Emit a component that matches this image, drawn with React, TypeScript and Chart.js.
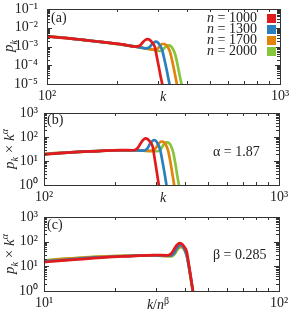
import React, { useEffect, useRef } from 'react';
import { Chart, registerables } from 'chart.js';
Chart.register(...registerables);

const ALPHA = 1.87;
const BETA = 0.285;
const sizes = [1000, 1300, 1700, 2000];
const colors = ['#e31a1c', '#2a80bf', '#e3830a', '#87c63b'];

// k values and compensated values p_k * k^alpha
const k1000 = [70, 85, 100, 130, 170, 210, 240, 250, 258, 264, 270, 276, 283, 290, 296, 302, 308, 314];
const v1000 = [14.5, 17, 19, 23, 26, 28.5, 28, 34, 55, 75, 88, 82, 62, 40, 12, 3.5, 1, 0.35];
const k1300 = [75, 90, 100, 130, 170, 210, 250, 265, 275, 282, 288, 293, 299, 305, 312, 319, 326, 332, 338];
const v1300 = [15.5, 17.5, 19, 23, 26, 28, 27.5, 27, 33, 50, 65, 75, 70, 52, 30, 10, 3, 1, 0.35];
const k1700 = [80, 100, 130, 170, 210, 250, 280, 290, 300, 307, 313, 318, 324, 331, 338, 345, 352, 358, 364];
const v1700 = [16, 19.5, 23, 26, 27.5, 27.5, 26.5, 27, 36, 52, 63, 65, 60, 45, 25, 9, 2.8, 1, 0.35];
const k2000 = [85, 100, 130, 170, 210, 250, 290, 305, 315, 323, 329, 334, 340, 347, 355, 362, 369, 375, 382];
const v2000 = [16.5, 19.5, 23, 26, 27.5, 27.5, 26, 25.5, 33, 48, 58, 60, 56, 42, 22, 8, 2.5, 1, 0.35];

const kSeries = [k1000, k1300, k1700, k2000];
const vSeries = [v1000, v1300, v1700, v2000];

const W = 291;
const FS = 14;
const SS = 10;

const SUP: Record<string, string> = { '0': '⁰', '1': '¹', '2': '²', '3': '³', '4': '⁴', '5': '⁵', '6': '⁶', '7': '⁷', '8': '⁸', '9': '⁹', '-': '⁻' };
const sup = (n: number) => String(n).split('').map((c) => SUP[c] || c).join('');

type Panel = {
  top: number; h: number;
  area: { top: number; bottom: number; left: number; right: number };
  xr: [number, number]; yr: [number, number];
  ypad: number;
  map: (k: number, v: number, n: number) => { x: number; y: number };
};

const panels: Panel[] = [
  { top: 0, h: 105, area: { top: 9, bottom: 84, left: 47, right: 280 }, xr: [100, 1000], yr: [1e-5, 1e-1], ypad: 9,
    map: (k, v) => ({ x: k, y: v / Math.pow(k, ALPHA) }) },
  { top: 105, h: 105, area: { top: 8, bottom: 80, left: 44, right: 279 }, xr: [100, 1000], yr: [1, 1000], ypad: 6,
    map: (k, v) => ({ x: k, y: v }) },
  { top: 210, h: 104, area: { top: 7, bottom: 81, left: 44, right: 279 }, xr: [10, 100], yr: [1, 1000], ypad: 6,
    map: (k, v, n) => ({ x: k / Math.pow(n, BETA), y: v }) },
];

const decades = (min: number, max: number) => {
  const out: number[] = [];
  for (let e = Math.round(Math.log10(min)); e <= Math.round(Math.log10(max)); e++) out.push(Math.pow(10, e));
  return out;
};

const framePlugin = {
  id: 'frame',
  afterDatasetsDraw(chart: any) {
    const { ctx, chartArea } = chart;
    const { left, right, top, bottom } = chartArea;
    const xs = chart.scales.x, ys = chart.scales.y;
    const logTicks = (min: number, max: number) => {
      const out: { v: number; major: boolean }[] = [];
      for (let e = Math.floor(Math.log10(min)) - 1; e <= Math.ceil(Math.log10(max)); e++) {
        for (let m = 1; m <= 9; m++) {
          const v = m * Math.pow(10, e);
          if (v >= min * 0.999 && v <= max * 1.001) out.push({ v, major: m === 1 });
        }
      }
      return out;
    };
    ctx.save();
    ctx.strokeStyle = '#333';
    ctx.lineWidth = 1;
    ctx.beginPath();
    for (const t of logTicks(xs.min, xs.max)) {
      const px = Math.round(xs.getPixelForValue(t.v)) + 0.5;
      const len = t.major ? 5 : 3;
      ctx.moveTo(px, bottom); ctx.lineTo(px, bottom - len);
      ctx.moveTo(px, top); ctx.lineTo(px, top + len);
    }
    for (const t of logTicks(ys.min, ys.max)) {
      const py = Math.round(ys.getPixelForValue(t.v)) + 0.5;
      const len = t.major ? 5 : 3;
      ctx.moveTo(left, py); ctx.lineTo(left + len, py);
      ctx.moveTo(right, py); ctx.lineTo(right - len, py);
    }
    ctx.stroke();
    ctx.strokeRect(Math.round(left) + 0.5, Math.round(top) + 0.5, Math.round(right - left), Math.round(bottom - top));
    ctx.restore();
  },
};

function PanelChart({ p }: { p: Panel }) {
  const ref = useRef<HTMLCanvasElement>(null);
  useEffect(() => {
    const datasets = sizes.map((n, i) => ({
      label: 'n = ' + n,
      data: kSeries[i].map((k, j) => p.map(k, vSeries[i][j], n)),
      borderColor: colors[i],
      backgroundColor: colors[i],
      borderWidth: 2.7,
      pointRadius: 0,
      cubicInterpolationMode: 'monotone' as const,
      fill: false,
    }));
    const font = { family: '"Liberation Serif", "Times New Roman", serif', size: FS };
    const chart = new Chart(ref.current!, {
      type: 'line',
      data: { datasets },
      options: {
        animation: false,
        responsive: false,
        maintainAspectRatio: false,
        devicePixelRatio: 1,
        layout: { padding: { top: p.area.top, right: W - p.area.right, left: 0, bottom: 0 } },
        plugins: { legend: { display: false }, tooltip: { enabled: false } },
        scales: {
          x: {
            type: 'logarithmic', min: p.xr[0], max: p.xr[1],
            grid: { display: false, drawTicks: false }, border: { display: false },
            ticks: { autoSkip: false, maxRotation: 0, padding: 4, color: '#222', font,
              callback: (v: any) => '10' + sup(Math.round(Math.log10(Number(v)))) },
            afterBuildTicks: (s: any) => { s.ticks = decades(p.xr[0], p.xr[1]).map((value) => ({ value })); },
            afterFit: (s: any) => { s.height = p.h - p.area.bottom; s.paddingLeft = 0; s.paddingRight = 0; },
          },
          y: {
            type: 'logarithmic', min: p.yr[0], max: p.yr[1],
            grid: { display: false, drawTicks: false }, border: { display: false },
            ticks: { autoSkip: false, padding: p.ypad, color: '#222', font,
              callback: (v: any) => '10' + sup(Math.round(Math.log10(Number(v)))) },
            afterBuildTicks: (s: any) => { s.ticks = decades(p.yr[0], p.yr[1]).map((value) => ({ value })); },
            afterFit: (s: any) => { s.width = p.area.left; s.paddingTop = 0; s.paddingBottom = 0; },
          },
        },
      } as any,
      plugins: [framePlugin],
    });
    return () => chart.destroy();
  }, []);
  return (
    <canvas ref={ref} width={W} height={p.h}
      style={{ position: 'absolute', left: 0, top: p.top, width: W, height: p.h }} />
  );
}

function T({ x, y, children, align = 'left', rot = false, size = FS }: any) {
  const tx = align === 'center' ? '-50%' : align === 'right' ? '-100%' : '0';
  return (
    <div style={{
      position: 'absolute', left: x, top: y, whiteSpace: 'nowrap', lineHeight: 1, fontSize: size,
      transform: rot ? 'translate(-50%,-50%) rotate(-90deg)' : `translate(${tx},-50%)`,
    }}>{children}</div>
  );
}

export default function App() {
  const legendY = [18.5, 29.5, 40.5, 51.5];
  return (
    <div style={{ position: 'absolute', left: 0, top: 0, width: W, height: 314, background: '#fff',
      fontFamily: '"Liberation Serif", "Times New Roman", serif', color: '#222' }}>
      {panels.map((p, i) => <PanelChart key={i} p={p} />)}
      <T x={51} y={17.5}>(a)</T>
      <T x={47} y={120}>(b)</T>
      <T x={47} y={225}>(c)</T>
      {sizes.map((n, i) => (
        <React.Fragment key={n}>
          <T x={257} y={legendY[i] - 1} align="right"><i>n</i>&nbsp;=&nbsp;{n}</T>
          <div style={{ position: 'absolute', left: 267, top: legendY[i] - 4.5, width: 8.5, height: 8.5, background: colors[i] }} />
        </React.Fragment>
      ))}
      <T x={213} y={151.5}>α&nbsp;=&nbsp;1.87</T>
      <T x={213} y={255}>β&nbsp;=&nbsp;0.285</T>
      <T x={163} y={97} align="center"><i>k</i></T>
      <T x={163} y={198} align="center"><i>k</i></T>
      <T x={158} y={304} align="center"><i>k</i>/<i>n</i><sup style={{ fontSize: SS }}>β</sup></T>
      <T x={10} y={46} size={15} rot><i>p</i><sub style={{ fontSize: SS }}><i>k</i></sub></T>
      <T x={10} y={149} size={15} rot><i>p</i><sub style={{ fontSize: SS }}><i>k</i></sub>&nbsp;×&nbsp;<i>k</i><sup style={{ fontSize: SS }}><i>α</i></sup></T>
      <T x={10} y={254} size={15} rot><i>p</i><sub style={{ fontSize: SS }}><i>k</i></sub>&nbsp;×&nbsp;<i>k</i><sup style={{ fontSize: SS }}><i>α</i></sup></T>
    </div>
  );
}
